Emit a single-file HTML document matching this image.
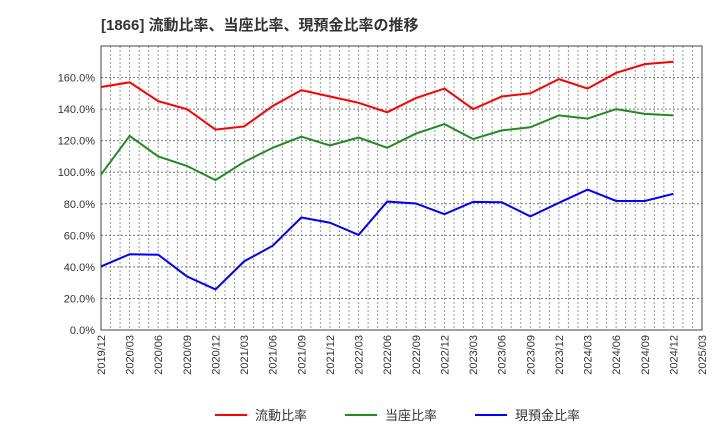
<!DOCTYPE html>
<html><head><meta charset="utf-8"><style>
body{margin:0;background:#fff;font-family:"Liberation Sans","Noto Sans CJK JP",sans-serif}
</style></head><body>
<svg id="chart" width="720" height="440" xmlns="http://www.w3.org/2000/svg" font-family="Liberation Sans, Noto Sans CJK JP, sans-serif">
<text x="101" y="30" font-size="15" font-weight="bold" fill="#333">[1866]  流動比率、当座比率、現預金比率の推移</text>
<g id="grid"></g><g id="axes"></g><g id="series"></g><g id="legend"></g>
</svg>
<script>
const months = [0,3,6,9,12,15,18,21,24,27,30,33,36,39,42,45,48,51,54,57,60];
const currentRatio = [154,157,145,140,127,129,142,152,148,144,138,147,153,140,148,150,159,153,163,168.5,170];
const quickRatio = [98.5,123,110,104,95,106.5,115.5,122.5,117,122,115.5,124.5,130.5,121,126.5,128.5,136,134,140,137,136];
const cashRatio = [40.3,48,47.7,34,25.7,43.5,53.4,71.3,68,60.3,81.4,80.2,73.4,81.2,81,72,80.6,89,81.8,81.8,86.3];
const yTicks = [0,20,40,60,80,100,120,140,160];
const xTickLabels = ["2019/12","2020/03","2020/06","2020/09","2020/12","2021/03","2021/06","2021/09","2021/12","2022/03","2022/06","2022/09","2022/12","2023/03","2023/06","2023/09","2023/12","2024/03","2024/06","2024/09","2024/12","2025/03"];
const seriesNames = ["流動比率","当座比率","現預金比率"];
const NS="http://www.w3.org/2000/svg";
const L=101,R=702,T=46,B=330,maxM=63,maxY=180;
const xs=m=>L+(R-L)*m/maxM, ys=v=>B-(B-T)*v/maxY;
function mk(tag,attrs,parent){const e=document.createElementNS(NS,tag);for(const k in attrs)e.setAttribute(k,attrs[k]);parent.appendChild(e);return e;}
const grid=document.getElementById('grid'),axes=document.getElementById('axes'),ser=document.getElementById('series'),leg=document.getElementById('legend');
for(let m=1;m<maxM;m++){const l=mk('line',{x1:xs(m),x2:xs(m),y1:T,y2:B,stroke:'#999','stroke-dasharray':'2,2','stroke-width':1},grid);

}
yTicks.forEach(v=>{if(v>0){const l=mk('line',{x1:L,x2:R,y1:ys(v),y2:ys(v),stroke:'#777','stroke-dasharray':'2,2','stroke-width':1},grid);

}
const t=mk('text',{x:95,y:ys(v)+4,'text-anchor':'end','font-size':11,fill:'#333'},axes);t.textContent=v.toFixed(1)+'%';

});
xTickLabels.forEach((s,i)=>{const x=xs(i*3);const t=mk('text',{x:0,y:0,transform:`translate(${x+4},335) rotate(-90)`,'text-anchor':'end','font-size':11,fill:'#333'},axes);t.textContent=s;

});
const frame=mk('rect',{x:L,y:T,width:R-L,height:B-T,fill:'none',stroke:'#444','stroke-width':1},axes);


const data=[currentRatio,quickRatio,cashRatio],colors=['#ff0000','#228B22','#0000ff'],names=['current-ratio-line','quick-ratio-line','cash-ratio-line'];
data.forEach((d,i)=>{const p=mk('polyline',{points:d.map((v,j)=>xs(months[j])+','+ys(v)).join(' '),fill:'none',stroke:colors[i],'stroke-width':2},ser);

});
const lx=[215,345,475];
seriesNames.forEach((n,i)=>{const g=mk('g',{},leg);


mk('line',{x1:lx[i],x2:lx[i]+32,y1:415,y2:415,stroke:colors[i],'stroke-width':2},g);
const t=mk('text',{x:lx[i]+40,y:420,'font-size':13,fill:'#333'},g);t.textContent=n;});
</script>
</body></html>
